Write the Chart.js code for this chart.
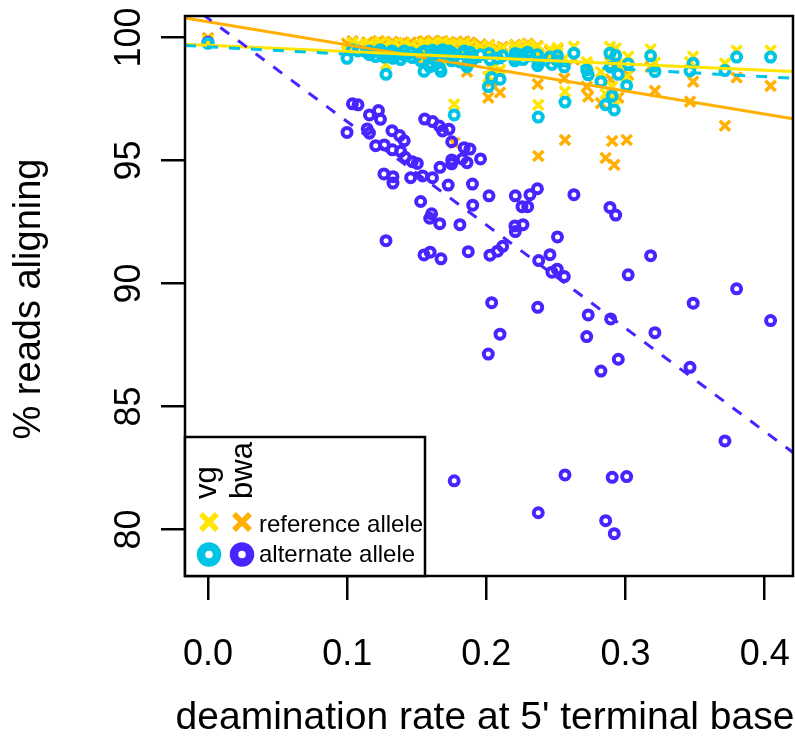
<!DOCTYPE html>
<html>
<head>
<meta charset="utf-8">
<script src="https://cdn.jsdelivr.net/npm/chart.js@4.4.1/dist/chart.umd.min.js"></script>
<style>
  html, body { margin: 0; padding: 0; background: #fff; }
  canvas { display: block; }
</style>
</head>
<body>
<canvas id="plot" width="795" height="736"></canvas>
<script>
// deamination rate at 5' terminal base, one entry per sample
const rate = [0.0000, 0.0999, 0.1038, 0.1078, 0.1144, 0.1160, 0.1160, 0.1205, 0.1225, 0.1239,
  0.1264, 0.1267, 0.1279, 0.1322, 0.1325, 0.1329, 0.1329, 0.1377, 0.1384, 0.1410,
  0.1417, 0.1456, 0.1468, 0.1504, 0.1528, 0.1542, 0.1552, 0.1557, 0.1593, 0.1596,
  0.1607, 0.1613, 0.1614, 0.1662, 0.1665, 0.1667, 0.1674, 0.1685, 0.1726, 0.1731,
  0.1751, 0.1751, 0.1751, 0.1769, 0.1810, 0.1827, 0.1841, 0.1861, 0.1870, 0.1882,
  0.1900, 0.1902, 0.1958, 0.2014, 0.2019, 0.2026, 0.2038, 0.2080, 0.2098, 0.2117,
  0.2205, 0.2208, 0.2208, 0.2256, 0.2263, 0.2297, 0.2313, 0.2367, 0.2369, 0.2373,
  0.2376, 0.2457, 0.2471, 0.2509, 0.2511, 0.2560, 0.2565, 0.2629, 0.2721, 0.2732,
  0.2823, 0.2857, 0.2888, 0.2893, 0.2904, 0.2919, 0.2929, 0.2948, 0.3008, 0.3019,
  0.3180, 0.3211, 0.3463, 0.3486, 0.3714, 0.3798, 0.4042];

// % reads aligning, vg / reference allele
const vgRef = [99.85, 99.45, 99.78, 99.72, 99.65, 99.60, 99.74, 99.52, 99.70, 99.80,
  99.64, 99.50, 98.90, 99.75, 99.60, 99.45, 99.70, 99.62, 99.42, 99.75,
  99.55, 99.68, 99.48, 99.60, 99.38, 99.70, 98.98, 99.76, 99.15, 99.30,
  99.52, 99.66, 99.78, 99.70, 99.10, 99.56, 98.98, 99.80, 99.62, 99.75,
  99.68, 99.52, 99.38, 97.28, 99.35, 99.66, 99.76, 99.18, 99.28, 99.70,
  99.52, 99.42, 99.62, 98.40, 99.66, 99.42, 98.75, 99.48, 98.68, 99.56,
  99.38, 99.66, 99.52, 99.62, 99.42, 99.70, 99.56, 99.62, 99.20, 97.26,
  99.35, 99.52, 99.25, 99.38, 99.58, 99.15, 97.80, 99.63, 99.00, 98.85,
  98.60, 97.70, 99.63, 99.15, 98.00, 97.48, 99.56, 98.90, 98.40, 99.22,
  99.52, 98.98, 99.00, 99.22, 98.95, 99.46, 99.46];

// % reads aligning, bwa / reference allele
const bwaRef = [99.97, 99.75, 99.85, 99.70, 99.80, 99.72, 99.60, 99.78, 99.85, 99.66,
  99.75, 99.58, 99.30, 99.82, 99.70, 99.62, 99.80, 99.74, 99.55, 99.78,
  99.68, 99.80, 99.62, 99.75, 99.50, 99.82, 99.20, 99.85, 99.35, 99.45,
  99.66, 99.78, 99.86, 99.80, 99.28, 99.70, 99.15, 99.85, 99.72, 99.82,
  99.76, 99.64, 99.55, 95.71, 99.45, 99.75, 99.84, 98.61, 99.40, 99.80,
  99.65, 99.50, 99.72, 97.55, 99.70, 99.52, 98.20, 99.55, 97.76, 99.62,
  99.45, 99.70, 99.60, 99.68, 99.50, 99.75, 99.62, 99.66, 98.10, 95.18,
  99.30, 99.45, 99.10, 99.20, 99.50, 98.34, 95.83, 99.10, 98.00, 97.59,
  97.33, 95.10, 99.00, 98.30, 95.79, 94.82, 98.90, 97.55, 95.83, 98.48,
  98.80, 97.83, 97.39, 98.20, 96.41, 98.37, 98.03];

// % reads aligning, vg / alternate allele
const vgAlt = [99.76, 99.15, 99.50, 99.45, 99.38, 99.30, 99.45, 99.22, 99.40, 99.50,
  99.35, 99.20, 98.50, 99.45, 99.30, 99.15, 99.40, 99.32, 99.10, 99.45,
  99.25, 99.38, 99.18, 99.30, 99.05, 99.40, 98.62, 99.45, 98.80, 98.95,
  99.20, 99.35, 99.48, 99.40, 98.75, 99.25, 98.62, 99.50, 99.30, 99.45,
  99.38, 99.20, 99.05, 96.85, 99.00, 99.35, 99.45, 98.81, 98.95, 99.40,
  99.20, 99.10, 99.30, 98.00, 99.35, 99.10, 98.37, 99.15, 98.30, 99.25,
  99.05, 99.35, 99.20, 99.30, 99.10, 99.40, 99.25, 99.30, 98.85, 96.76,
  99.00, 99.20, 98.90, 99.05, 99.25, 98.80, 97.37, 99.36, 98.68, 98.48,
  98.20, 97.26, 99.36, 98.79, 97.62, 97.05, 99.26, 98.50, 98.04, 98.92,
  99.25, 98.61, 98.64, 98.95, 98.65, 99.20, 99.20];

// % reads aligning, bwa / alternate allele
const bwaAlt = [99.80, 96.14, 97.30, 97.26, 96.28, 96.85, 96.11, 95.60, 97.03, 96.67,
  94.45, 95.63, 91.74, 96.21, 95.43, 94.34, 94.08, 96.01, 95.37, 95.80,
  95.13, 94.30, 94.95, 94.88, 93.33, 94.37, 91.16, 96.68, 92.65, 91.27,
  92.83, 94.30, 96.58, 96.40, 92.43, 94.72, 91.00, 96.20, 94.00, 96.27,
  95.76, 94.86, 95.02, 81.98, 92.39, 95.06, 95.52, 94.91, 91.29, 95.46,
  94.04, 93.18, 95.06, 87.13, 93.56, 91.15, 89.22, 91.31, 87.94, 91.51,
  92.34, 93.56, 92.11, 93.12, 92.39, 93.12, 93.61, 93.85, 89.03, 80.68,
  90.93, 91.17, 90.46, 90.58, 91.89, 90.28, 82.22, 93.61, 87.84, 88.72,
  86.44, 80.36, 93.09, 88.56, 82.12, 79.83, 92.78, 86.92, 82.15, 90.35,
  91.13, 88.00, 86.59, 89.20, 83.60, 89.78, 88.49];

// fitted lines, read at the two ends of the x range
const lineEndsX = [-0.0165, 0.4203];
const fitVgRef = [99.72, 98.61];
const fitBwaRef = [100.79, 96.69];
const fitVgAlt = [99.67, 98.34];
const fitBwaAlt = [101.47, 83.13];

const xTicks = [0, 0.1, 0.2, 0.3, 0.4];
const xTickLabels = ['0.0', '0.1', '0.2', '0.3', '0.4'];
const yTicks = [80, 85, 90, 95, 100];
const yTickLabels = ['80', '85', '90', '95', '100'];

const YELLOW = '#FFE500';
const ORANGE = '#FFB000';
const CYAN = '#00C4E6';
const PURPLE = '#4A24FF';
const FONT = '"Liberation Sans", Arial, Helvetica, sans-serif';

function pts(ys) { return rate.map((x, i) => ({ x: x, y: ys[i] })); }
function fit(ys) { return lineEndsX.map((x, i) => ({ x: x, y: ys[i] })); }

function lineSet(ys, color, dash) {
  return {
    data: fit(ys), showLine: true, borderColor: color, borderWidth: 3,
    borderDash: dash, pointRadius: 0, fill: false
  };
}
function crossSet(ys, color) {
  return {
    data: pts(ys), pointStyle: 'crossRot', pointRadius: 7.2,
    borderColor: color, backgroundColor: color, pointBorderWidth: 3.5
  };
}
function ringSet(ys, color) {
  return {
    data: pts(ys), pointStyle: 'circle', pointRadius: 4.5,
    borderColor: color, backgroundColor: 'rgba(0,0,0,0)', pointBorderWidth: 4
  };
}

// plot box, R-style axis text and the legend in the lower left corner
const framePlugin = {
  id: 'frame',
  afterDraw(chart) {
    const ctx = chart.ctx;
    const a = chart.chartArea;
    const xs = chart.scales.x, ys = chart.scales.y;
    ctx.save();
    ctx.strokeStyle = '#000';
    ctx.lineWidth = 2.5;
    ctx.strokeRect(a.left, a.top, a.right - a.left, a.bottom - a.top);

    ctx.fillStyle = '#000';
    ctx.font = '36px ' + FONT;
    ctx.textAlign = 'center';
    ctx.textBaseline = 'middle';
    xTicks.forEach(function (v, i) {
      ctx.fillText(xTickLabels[i], xs.getPixelForValue(v), 655);
    });
    yTicks.forEach(function (v, i) {
      ctx.save();
      ctx.translate(130, ys.getPixelForValue(v));
      ctx.rotate(-Math.PI / 2);
      ctx.fillText(yTickLabels[i], 0, 0);
      ctx.restore();
    });

    // axis titles
    ctx.font = '39px ' + FONT;
    ctx.fillText("deamination rate at 5' terminal base", 485, 718);
    ctx.save();
    ctx.translate(30, 299);
    ctx.rotate(-Math.PI / 2);
    ctx.font = '38px ' + FONT;
    ctx.fillText('% reads aligning', 0, 0);
    ctx.restore();

    // legend
    const lx = a.left, ly = 437, lw = 240, lh = a.bottom - 437;
    ctx.fillStyle = '#fff';
    ctx.fillRect(lx, ly, lw, lh);
    ctx.strokeRect(lx, ly, lw, lh);

    ctx.fillStyle = '#000';
    ctx.font = '31px ' + FONT;
    ctx.textAlign = 'left';
    ctx.textBaseline = 'alphabetic';
    [['vg', 216], ['bwa', 252]].forEach(function (t) {
      ctx.save();
      ctx.translate(t[1], 499);
      ctx.rotate(-Math.PI / 2);
      ctx.fillText(t[0], 0, 0);
      ctx.restore();
    });

    function cross(cx, cy, color) {
      ctx.strokeStyle = color;
      ctx.lineWidth = 5.5;
      ctx.beginPath();
      ctx.moveTo(cx - 8, cy - 8); ctx.lineTo(cx + 8, cy + 8);
      ctx.moveTo(cx - 8, cy + 8); ctx.lineTo(cx + 8, cy - 8);
      ctx.stroke();
    }
    function ring(cx, cy, color) {
      ctx.strokeStyle = color;
      ctx.lineWidth = 8.5;
      ctx.beginPath();
      ctx.arc(cx, cy, 8, 0, Math.PI * 2);
      ctx.stroke();
    }
    cross(209, 522, YELLOW);
    cross(242, 522, ORANGE);
    ring(209, 554.5, CYAN);
    ring(242, 554.5, PURPLE);

    ctx.fillStyle = '#000';
    ctx.font = '24px ' + FONT;
    ctx.fillText('reference allele', 259, 531.5);
    ctx.fillText('alternate allele', 259, 561.5);
    ctx.restore();
  }
};

new Chart(document.getElementById('plot'), {
  type: 'scatter',
  data: {
    datasets: [
      lineSet(fitBwaAlt, PURPLE, [11, 11]),
      lineSet(fitVgAlt, CYAN, [11, 11]),
      lineSet(fitVgRef, YELLOW, []),
      lineSet(fitBwaRef, ORANGE, []),
      ringSet(vgAlt, CYAN),
      ringSet(bwaAlt, PURPLE),
      crossSet(vgRef, YELLOW),
      crossSet(bwaRef, ORANGE)
    ]
  },
  options: {
    responsive: false,
    animation: false,
    devicePixelRatio: 1,
    layout: { autoPadding: false, padding: { top: 16, right: 2, left: 0, bottom: 0 } },
    plugins: { legend: { display: false }, tooltip: { enabled: false } },
    scales: {
      x: {
        type: 'linear',
        min: lineEndsX[0],
        max: lineEndsX[1],
        afterFit: function (s) { s.height = 160; },
        afterBuildTicks: function (s) { s.ticks = xTicks.map(v => ({ value: v })); },
        border: { display: false },
        grid: { drawOnChartArea: false, drawTicks: true, tickLength: 24, color: '#000', lineWidth: 2.5 },
        ticks: { display: false },
        title: { display: false }
      },
      y: {
        min: 78.11,
        max: 100.87,
        afterFit: function (s) { s.width = 185; },
        afterBuildTicks: function (s) { s.ticks = yTicks.map(v => ({ value: v })); },
        border: { display: false },
        grid: { drawOnChartArea: false, drawTicks: true, tickLength: 24, color: '#000', lineWidth: 2.5 },
        ticks: { display: false },
        title: { display: false }
      }
    }
  },
  plugins: [framePlugin]
});
</script>
</body>
</html>
